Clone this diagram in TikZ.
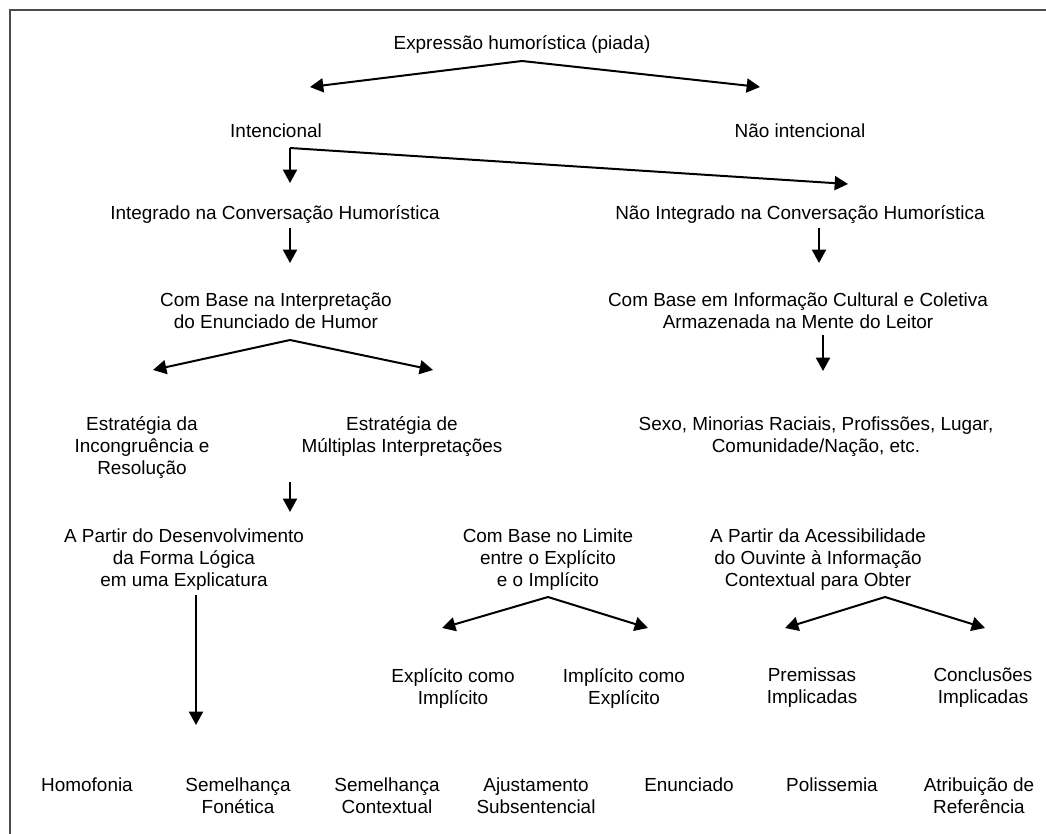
\documentclass[tikz,border=0pt]{standalone}
\usepackage{fontspec}
\setmainfont{Liberation Sans}
\usetikzlibrary{arrows.meta}
\begin{document}
\begin{tikzpicture}[x=0.75pt,y=-0.75pt,
  txt/.style={align=center,font=\fontsize{14.2}{16.5}\selectfont,inner sep=0pt},
  arr/.style={line width=1.5pt,-{Triangle[length=10pt,width=10.5pt]}},
  frame/.style={line width=1.5pt,draw=black!70}]
\useasboundingbox (0,0) rectangle (1046,834);
\draw[frame] (10,834) -- (10,10) -- (1046,10);

% texts
\node[txt] (expr) at (522,44) {Expressão humorística (piada)};
\node[txt] (intenc) at (276,131) {Intencional};
\node[txt] (naoint) at (800,131) {Não intencional};
\node[txt] (integ) at (275,215) {Integrado na Conversação Humorística};
\node[txt] (naointeg) at (800,215) {Não Integrado na Conversação Humorística};
\node[txt] (cbi) at (276,311) {Com Base na Interpretação\\do Enunciado de Humor};
\node[txt] (cbc) at (798,311) {Com Base em Informação Cultural e Coletiva\\Armazenada na Mente do Leitor};
\node[txt] (incong) at (142,448) {Estratégia da\\Incongruência e\\Resolução};
\node[txt] (mult) at (402,437) {Estratégia de\\Múltiplas Interpretações};
\node[txt] (sexo) at (816,437) {Sexo, Minorias Raciais, Profissões, Lugar,\\Comunidade/Nação, etc.};
\node[txt] (apd) at (184,560) {A Partir do Desenvolvimento\\da Forma Lógica\\em uma Explicatura};
\node[txt] (cbl) at (548,560) {Com Base no Limite\\entre o Explícito\\e o Implícito};
\node[txt] (apa) at (818,560) {A Partir da Acessibilidade\\do Ouvinte à Informação\\Contextual para Obter};
\node[txt] (eci) at (453,688) {Explícito como\\Implícito};
\node[txt] (ice) at (624,688) {Implícito como\\Explícito};
\node[txt] (prem) at (812,688) {Premissas\\Implicadas};
\node[txt] (concl) at (983,688) {Conclusões\\Implicadas};
\node[txt] (homo) at (87,785) {Homofonia};
\node[txt] (semf) at (238,796) {Semelhança\\Fonética};
\node[txt] (semc) at (387,796) {Semelhança\\Contextual};
\node[txt] (ajus) at (536,796) {Ajustamento\\Subsentencial};
\node[txt] (enun) at (689,785) {Enunciado};
\node[txt] (poli) at (832,785) {Polissemia};
\node[txt] (atri) at (979,796) {Atribuição de\\Referência};

% connector points
\coordinate (t0) at (522,61);
\coordinate (t1) at (310,87);
\coordinate (t2) at (760,87);
\coordinate (b0) at (290,148);
\coordinate (b1) at (290,183);
\coordinate (b2) at (848,184);
\coordinate (v1a) at (290,228);
\coordinate (v1b) at (290,263);
\coordinate (v2a) at (819,228);
\coordinate (v2b) at (819,263);
\coordinate (c0) at (290,340);
\coordinate (c1) at (153,370);
\coordinate (c2) at (433,370);
\coordinate (v3a) at (823,335);
\coordinate (v3b) at (823,371);
\coordinate (v4a) at (290,482);
\coordinate (v4b) at (290,512);
\coordinate (v5a) at (196,595);
\coordinate (v5b) at (196,725);
\coordinate (l0) at (548,597);
\coordinate (l1) at (442,628);
\coordinate (l2) at (648,628);
\coordinate (p0) at (885,597);
\coordinate (p1) at (785,628);
\coordinate (p2) at (985,628);

% connectors
\draw[arr] (t0) -- (t1);
\draw[arr] (t0) -- (t2);
\draw[arr] (b0) -- (b1);
\draw[arr] (b0) -- (b2);
\draw[arr] (v1a) -- (v1b);
\draw[arr] (v2a) -- (v2b);
\draw[arr] (c0) -- (c1);
\draw[arr] (c0) -- (c2);
\draw[arr] (v3a) -- (v3b);
\draw[arr] (v4a) -- (v4b);
\draw[arr] (v5a) -- (v5b);
\draw[arr] (l0) -- (l1);
\draw[arr] (l0) -- (l2);
\draw[arr] (p0) -- (p1);
\draw[arr] (p0) -- (p2);
\end{tikzpicture}
\end{document}
